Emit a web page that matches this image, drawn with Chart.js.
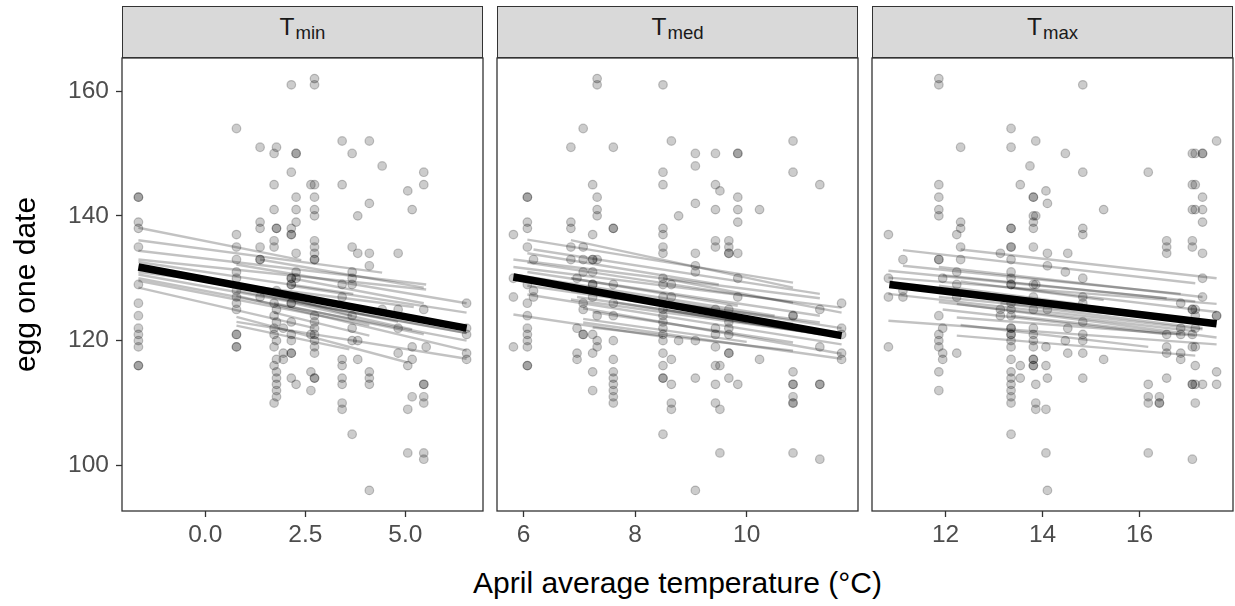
<!DOCTYPE html>
<html><head><meta charset="utf-8">
<script src="https://cdn.jsdelivr.net/npm/chart.js@4.4.0/dist/chart.umd.min.js"></script>
<style>
body{margin:0;background:#fff;}
#wrap{position:relative;width:1235px;height:606px;overflow:hidden;background:#fff;font-family:"Liberation Sans",Arial,sans-serif;}
canvas{position:absolute;}
.strip{position:absolute;top:6px;height:52px;background:#D9D9D9;border:1.3px solid #333;box-sizing:border-box;display:flex;align-items:center;justify-content:center;color:#1A1A1A;font-size:24.5px;line-height:1;padding-bottom:9px;}
.strip sub{font-size:18.6px;position:relative;top:6px;vertical-align:baseline;margin-left:1px;}
#xtitle{position:absolute;left:122px;width:1111px;top:566px;text-align:center;font-size:30px;color:#000;}
</style></head>
<body>
<div id="wrap">
  <div class="strip" style="left:122px;width:361px">T<sub>min</sub></div>
  <div class="strip" style="left:497px;width:361px">T<sub>med</sub></div>
  <div class="strip" style="left:872px;width:361px">T<sub>max</sub></div>
  <canvas id="c1"></canvas>
  <canvas id="c2"></canvas>
  <canvas id="c3"></canvas>
  <div id="xtitle">April average temperature (°C)</div>
</div>
<script>
// ---------------- DATA ----------------
const yLabel = 'egg one date';
const xLabel = 'April average temperature (°C)';
const yTicks = [100, 120, 140, 160];

// Tmin panel
const tminTicks = [0, 2.5, 5];
const tminTickLabels = ['0.0', '2.5', '5.0'];
const tminTemps = [-1.67, 0.78, 1.37, 1.72, 1.78, 1.95, 2.15, 2.27, 2.64, 2.73, 3.42, 3.67, 3.81, 4.10, 4.42, 4.82, 5.06, 5.17, 5.46, 5.52, 6.53];
const tminDates = [
  [143,143,139,138,135,129,126,124,122,121,120,119,116,116],
  [154,137,135,133,131,130,128,127,126,125,121,121,119,119],
  [151,139,138,135,133,133,127],
  [150,145,141,136,135,126,124,122,121,119,116,110],
  [151,138,138,128,125,123,120,117,115,114,113,112,111],
  [122,118,117],
  [161,147,138,137,137,130,130,129,129,126,126,123,121,120,118,118,114],
  [150,150,143,141,139,134,131,130,127,113],
  [145,121,115,112],
  [162,161,145,143,141,140,136,135,134,133,133,124,123,122,121,120,119,118,114,114],
  [152,145,129,127,117,116,114,113,110,109],
  [150,135,131,130,129,124,122,120,105],
  [140,134,120,117],
  [152,142,134,132,115,114,113,96],
  [148,125],
  [134,125,122,118],
  [144,116,109,102],
  [141,119,117,111],
  [147,145,125,113,113,111,110,102,101],
  [119],
  [126,122,121,118,117]
];
const tminSiteFits = [
  [-1.67,138.1, 2.40,132.9], [-1.67,136.1, 4.42,130.9], [-1.67,134.4, 5.52,129.0],
  [-1.67,133.0, 5.52,128.2], [-1.67,132.6, 3.70,127.5], [-1.67,131.0, 5.21,125.4],
  [-1.67,130.6, 6.53,121.2], [-1.67,130.0, 6.53,120.0], [-1.67,129.6, 4.10,122.5],
  [0.78,132.2, 6.53,126.0], [0.78,128.0, 6.53,121.2], [0.78,127.2, 6.53,118.4],
  [0.78,123.8, 5.06,116.5], [0.78,123.0, 6.53,117.1], [0.78,122.4, 3.60,118.6],
  [1.37,133.0, 5.46,128.5], [1.37,127.5, 4.82,123.0], [1.72,126.0, 5.46,121.0],
  [1.72,124.5, 4.10,120.8], [2.15,130.0, 5.46,126.0], [2.15,128.8, 6.53,124.5],
  [2.27,125.9, 5.17,121.8], [-1.67,128.5, 2.73,122.0], [0.78,129.0, 3.67,124.0]
];
const tminOverall = [-1.67, 131.8, 6.53, 122.0];

// Tmed panel
const tmedTicks = [6, 8, 10];
const tmedTickLabels = ['6', '8', '10'];
const tmedTemps = [5.82, 6.07, 6.18, 6.85, 6.96, 7.07, 7.24, 7.32, 7.61, 8.50, 8.65, 8.78, 9.08, 9.44, 9.52, 9.68, 9.84, 10.23, 10.83, 11.31, 11.70];
const tmedDates = [
  [137,130,127,119],
  [143,143,139,138,135,129,126,124,122,121,120,119,116,116],
  [133,128,127],
  [151,139,138,135,133],
  [130,122,118,117],
  [154,135,133,131,126,125,121,121],
  [145,137,133,133,131,129,129,127,121,118,115,112],
  [162,161,143,141,140,133,124,120,119],
  [151,138,138,129,126,124,120,117,115,114,113,112,111,110],
  [161,147,145,138,137,135,134,130,129,127,125,124,123,122,121,120,118,116,114,114,105],
  [152,129,127,117,113,110,109],
  [140,120],
  [150,148,142,134,132,131,120,114,96],
  [150,145,141,136,135,125,122,121,119,116,113,110],
  [144,116,109,102],
  [136,135,134,134,125,123,122,121,118,118,114],
  [150,150,143,141,139,134,130,127,113],
  [141,117],
  [152,147,124,124,115,113,113,111,110,110,102],
  [145,125,119,113,113,101],
  [126,122,121,118,117]
];
const tmedSiteFits = [
  [6.07,136.2, 10.83,129.3], [6.85,136.1, 10.83,128.5], [6.18,134.6, 11.31,127.5],
  [5.82,133.0, 11.31,126.8], [5.82,131.8, 11.70,125.3], [6.07,132.5, 10.83,126.1],
  [6.07,131.0, 11.31,124.0], [5.82,130.6, 10.50,124.0], [6.18,129.6, 11.70,122.0],
  [6.07,128.8, 10.83,122.7], [6.85,128.0, 11.31,122.9], [6.07,127.4, 11.70,119.4],
  [6.85,126.6, 11.70,120.6], [7.07,125.2, 11.70,117.9], [7.24,124.6, 10.83,119.7],
  [5.82,124.2, 8.50,120.6], [7.07,122.9, 11.70,117.1], [7.24,122.1, 10.83,118.4],
  [7.07,123.5, 10.00,119.8], [8.50,125.0, 11.31,121.0], [6.96,127.0, 10.00,123.0],
  [7.61,126.2, 11.00,121.5], [6.85,130.0, 9.84,125.6], [8.50,130.0, 11.70,124.5],
  [6.07,134.0, 9.50,129.0]
];
const tmedOverall = [5.82, 130.2, 11.70, 120.8];

// Tmax panel
const tmaxTicks = [12, 14, 16];
const tmaxTickLabels = ['12', '14', '16'];
const tmaxTemps = [10.82, 11.12, 11.86, 11.94, 12.23, 12.31, 13.13, 13.35, 13.54, 13.74, 13.81, 13.86, 14.07, 14.10, 14.47, 14.52, 14.83, 15.26, 16.18, 16.41, 16.56, 16.85, 17.09, 17.15, 17.30, 17.59];
const tmaxDates = [
  [137,130,127,119],
  [133,128,127],
  [162,161,145,143,141,140,133,133,124,121,120,119,115,112],
  [130,122,118,117],
  [137,131,129,127,118],
  [151,139,138,135,133],
  [134,125,124],
  [154,151,138,138,135,135,133,131,130,129,129,126,125,124,122,122,121,121,120,119,117,115,114,113,112,111,110,105],
  [145,116,114],
  [148],
  [143,143,140,139,138,135,129,127,125,122,121,120,119,117,117,116,116],
  [152,140,129,113,110,109],
  [144,119,116,109,102],
  [142,134,132,125,114,96],
  [150,131,120],
  [134,122,118],
  [161,147,138,137,130,127,126,123,121,120,118,114],
  [141,117],
  [147,113,111,110,102],
  [110,110,111],
  [136,135,134,121,119,118,114],
  [126,122,121,118,117],
  [150,145,141,136,135,125,125,121,119,113,113,101],
  [150,145,141,125,124,122,119,116,113,110],
  [150,150,143,141,139,134,130,127,113],
  [152,124,124,115,113]
];
const tmaxSiteFits = [
  [12.31,134.6, 17.59,130.0], [11.12,134.5, 17.15,129.2], [11.86,131.8, 17.30,127.0],
  [10.82,131.2, 16.56,126.8], [10.82,130.1, 17.59,125.9], [11.12,132.0, 16.85,127.5],
  [11.94,130.5, 17.15,126.3], [10.82,127.5, 17.30,121.8], [11.86,127.0, 17.59,122.7],
  [11.86,126.2, 17.15,121.5], [12.23,125.9, 17.59,120.5], [12.31,128.0, 16.56,124.0],
  [11.94,125.0, 16.56,121.0], [10.82,123.2, 17.59,119.4], [12.23,123.7, 17.15,120.8],
  [12.23,120.8, 17.15,117.6], [13.13,126.0, 17.30,122.0], [13.35,128.5, 17.59,124.6],
  [12.31,129.5, 15.26,126.5], [13.35,124.0, 16.85,121.0], [11.86,128.8, 14.83,125.8],
  [12.31,122.5, 16.18,119.0]
];
const tmaxOverall = [10.84, 129.0, 17.59, 122.7];

// ---------------- RENDER ----------------
const FONT = '"Liberation Sans", Arial, sans-serif';
const PANEL_TOP = 58, PANEL_BOTTOM = 511, XAXIS_H = 47, YAXIS_W = 122;

function expand(lo, hi) { const d = (hi - lo) * 0.05; return [lo - d, hi + d]; }
const allDates = [].concat(...tminDates, ...tmedDates, ...tmaxDates);
const yLim = expand(Math.min(...allDates), Math.max(...allDates));

const borderPlugin = {
  id: 'panelBorder',
  afterDatasetsDraw(chart) {
    const a = chart.chartArea, ctx = chart.ctx;
    ctx.save();
    ctx.strokeStyle = '#333333';
    ctx.lineWidth = 1.3;
    ctx.strokeRect(a.left, a.top, a.right - a.left, a.bottom - a.top);
    ctx.restore();
  }
};

function zeroPad(s) { s.paddingTop = 0; s.paddingBottom = 0; s.paddingLeft = 0; s.paddingRight = 0; }

function makePanel(id, left, right, temps, dates, fits, overall, ticks, tickLabels, showY) {
  const cv = document.getElementById(id);
  const cLeft = showY ? 0 : left - 2;
  const w = right - cLeft + 3;
  const h = (PANEL_BOTTOM - (PANEL_TOP - 2)) + XAXIS_H;
  cv.width = w; cv.height = h;
  cv.style.left = cLeft + 'px'; cv.style.top = (PANEL_TOP - 2) + 'px';
  cv.style.width = w + 'px'; cv.style.height = h + 'px';

  const pts = [];
  temps.forEach((t, i) => dates[i].forEach(d => pts.push({ x: t, y: d })));
  const xLim = expand(Math.min(...temps), Math.max(...temps));

  const datasets = [];
  datasets.push({
    data: [{ x: overall[0], y: overall[1] }, { x: overall[2], y: overall[3] }],
    showLine: true, borderColor: '#000000', borderWidth: 7.5, pointRadius: 0,
    borderCapStyle: 'butt'
  });
  fits.forEach(f => datasets.push({
    data: [{ x: f[0], y: f[1] }, { x: f[2], y: f[3] }],
    showLine: true, borderColor: 'rgba(0,0,0,0.24)', borderWidth: 2.4, pointRadius: 0,
    borderCapStyle: 'butt'
  }));
  datasets.push({
    data: pts, showLine: false, pointRadius: 4.3, pointHoverRadius: 4.3,
    pointBackgroundColor: 'rgba(0,0,0,0.2)', pointBorderColor: 'rgba(0,0,0,0.22)',
    pointBorderWidth: 1.2
  });

  new Chart(cv, {
    type: 'scatter',
    data: { datasets },
    plugins: [borderPlugin],
    options: {
      responsive: false, animation: false, devicePixelRatio: 1,
      layout: { autoPadding: false, padding: { top: 2, right: 3, left: showY ? 0 : 2, bottom: 0 } },
      plugins: { legend: { display: false }, tooltip: { enabled: false } },
      scales: {
        x: {
          type: 'linear', min: xLim[0], max: xLim[1],
          afterBuildTicks: s => { s.ticks = ticks.map(v => ({ value: v })); },
          afterFit: s => { s.height = XAXIS_H; zeroPad(s); },
          ticks: {
            callback: (v, i) => tickLabels[i],
            font: { size: 24.5, family: FONT }, color: '#4D4D4D', padding: 4, maxRotation: 0
          },
          grid: { display: true, drawOnChartArea: false, drawTicks: true, tickLength: 6,
                  tickColor: '#333333', tickWidth: 1.3, color: '#333333' },
          border: { display: false }
        },
        y: {
          type: 'linear', min: yLim[0], max: yLim[1], display: showY,
          afterBuildTicks: s => { s.ticks = yTicks.map(v => ({ value: v })); },
          afterFit: s => { s.width = showY ? YAXIS_W : 0; zeroPad(s); },
          ticks: { callback: v => String(v), font: { size: 24.5, family: FONT }, color: '#4D4D4D', padding: 7 },
          grid: { display: true, drawOnChartArea: false, drawTicks: true, tickLength: 6,
                  tickColor: '#333333', tickWidth: 1.3, color: '#333333' },
          border: { display: false },
          title: { display: true, text: yLabel, font: { size: 30, family: FONT }, color: '#000000',
                   padding: { top: 9, bottom: 0 } }
        }
      }
    }
  });
}

makePanel('c1', 122, 483, tminTemps, tminDates, tminSiteFits, tminOverall, tminTicks, tminTickLabels, true);
makePanel('c2', 497, 858, tmedTemps, tmedDates, tmedSiteFits, tmedOverall, tmedTicks, tmedTickLabels, false);
makePanel('c3', 872, 1233, tmaxTemps, tmaxDates, tmaxSiteFits, tmaxOverall, tmaxTicks, tmaxTickLabels, false);
document.getElementById('xtitle').textContent = xLabel;
</script>
</body></html>
